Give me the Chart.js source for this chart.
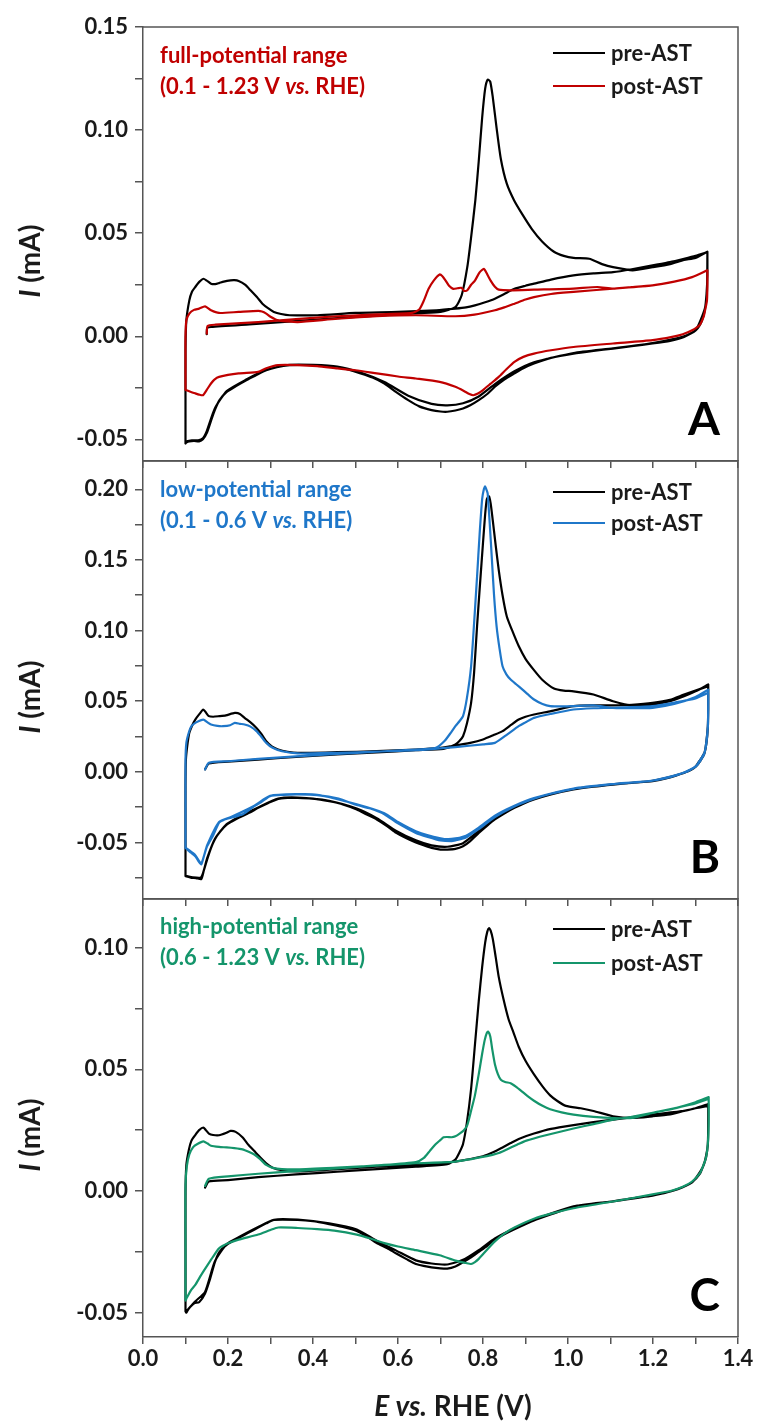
<!DOCTYPE html>
<html>
<head>
<meta charset="utf-8">
<title>CO stripping voltammograms before and after AST</title>
<script src="https://cdn.jsdelivr.net/npm/chart.js@4.4.1/dist/chart.umd.min.js"></script>
<style>
  html, body { margin: 0; padding: 0; background: #fff; }
  #wrap { position: relative; width: 757px; height: 1425px; overflow: hidden; background: #fff; }
  #wrap canvas { position: absolute; left: 0; top: 0; }
</style>
</head>
<body>
<div id="wrap">
  <canvas id="cvA" width="757" height="1425"></canvas>
  <canvas id="cvB" width="757" height="1425"></canvas>
  <canvas id="cvC" width="757" height="1425"></canvas>
</div>
<script>
// ---------- axis ticks ----------
const xMajor = [0, 0.2, 0.4, 0.6, 0.8, 1.0, 1.2, 1.4];
const xMinor = [0.1, 0.3, 0.5, 0.7, 0.9, 1.1, 1.3];

const yMajorA = [-0.05, 0, 0.05, 0.10, 0.15];
const yMinorA = [-0.025, 0.025, 0.075, 0.125];
const yMajorB = [-0.05, 0, 0.05, 0.10, 0.15, 0.20];
const yMinorB = [-0.075, -0.025, 0.025, 0.075, 0.125, 0.175];
const yMajorC = [-0.05, 0, 0.05, 0.10];
const yMinorC = [-0.025, 0.025, 0.075];

// ---------- voltammograms: [E (V vs. RHE), I (mA)] ----------
// A: full-potential range, pre-AST
const fullPreScan = [[0.150,0.001],[0.151,0.004],[0.16,0.0045],[0.25,0.0058],[0.35,0.0072],[0.45,0.0087],[0.55,0.0100],[0.65,0.0112],[0.70,0.0118],[0.735,0.0142],[0.750,0.020],[0.763,0.0335],[0.772,0.048],[0.782,0.066],[0.790,0.085],[0.798,0.106],[0.805,0.120],[0.811,0.1245],[0.817,0.1235],[0.823,0.116],[0.832,0.101],[0.842,0.086],[0.856,0.074],[0.873,0.066],[0.893,0.059],[0.915,0.052],[0.939,0.046],[0.967,0.041],[0.99,0.039],[1.013,0.038],[1.05,0.0376],[1.08,0.035],[1.106,0.0335],[1.152,0.032],[1.199,0.0335],[1.24,0.035],[1.273,0.037],[1.30,0.038],[1.328,0.041]];
const fullPreCath1 = [[1.328,0.041],[1.328,0.030],[1.326,0.0206],[1.322,0.013],[1.315,0.0075],[1.301,0.0029],[1.273,-0.0003],[1.24,-0.0022],[1.199,-0.0035],[1.15,-0.0048],[1.106,-0.006],[1.06,-0.0071],[1.013,-0.0084],[0.96,-0.0105],[0.92,-0.0132],[0.895,-0.0155],[0.874,-0.018],[0.85,-0.021],[0.828,-0.0245],[0.81,-0.028],[0.79,-0.031],[0.77,-0.0335],[0.753,-0.035],[0.735,-0.036],[0.716,-0.0366],[0.70,-0.0365],[0.679,-0.0358],[0.65,-0.034],[0.624,-0.031],[0.595,-0.027],[0.568,-0.0229],[0.54,-0.020],[0.512,-0.018],[0.48,-0.016],[0.457,-0.0148],[0.43,-0.0142],[0.401,-0.014],[0.37,-0.0139],[0.345,-0.014],[0.315,-0.015],[0.29,-0.0165],[0.265,-0.019],[0.243,-0.0213],[0.22,-0.024],[0.197,-0.027],[0.18,-0.031],[0.169,-0.0358],[0.16,-0.041],[0.15,-0.047],[0.141,-0.050],[0.132,-0.051],[0.12,-0.0508],[0.109,-0.051],[0.102,-0.0515],[0.100,-0.052]];
const fullPreAnod = [[0.100,-0.052],[0.100,-0.030],[0.100,-0.0068],[0.102,0.0077],[0.109,0.0174],[0.115,0.0215],[0.123,0.0239],[0.133,0.0265],[0.142,0.0279],[0.150,0.027],[0.16,0.0255],[0.17,0.0253],[0.179,0.0258],[0.19,0.0265],[0.206,0.0271],[0.215,0.0272],[0.225,0.0268],[0.24,0.025],[0.253,0.0223],[0.268,0.019],[0.281,0.0158],[0.295,0.0135],[0.308,0.0118],[0.325,0.0108],[0.345,0.0102],[0.41,0.0102],[0.50,0.0113],[0.60,0.0118],[0.69,0.0126],[0.735,0.0134],[0.76,0.014],[0.781,0.015],[0.805,0.0165],[0.828,0.0182],[0.85,0.0205],[0.874,0.023],[0.90,0.0245],[0.92,0.0255],[0.96,0.0275],[1.013,0.0295],[1.06,0.0305],[1.106,0.0311],[1.15,0.0325],[1.199,0.0344],[1.24,0.036],[1.273,0.0376],[1.30,0.039],[1.328,0.0408]];
const fullPreCath2 = [[1.328,0.0408],[1.327,0.022],[1.322,0.0135],[1.301,0.0032],[1.273,0.0],[1.199,-0.0033],[1.106,-0.0058],[1.013,-0.0081],[0.92,-0.0126],[0.874,-0.017],[0.828,-0.0232],[0.79,-0.0292],[0.753,-0.0325],[0.716,-0.0335],[0.679,-0.0328],[0.624,-0.0288],[0.568,-0.0222],[0.512,-0.0176],[0.457,-0.0147],[0.401,-0.0139],[0.345,-0.0139],[0.29,-0.0163],[0.243,-0.021],[0.197,-0.0266],[0.169,-0.035],[0.15,-0.046],[0.141,-0.0495],[0.13,-0.0505],[0.115,-0.0505],[0.102,-0.051]];

// A: full-potential range, post-AST
const fullPostScan = [[0.150,0.0013],[0.152,0.005],[0.17,0.0056],[0.271,0.0069],[0.36,0.0083],[0.457,0.0097],[0.55,0.0106],[0.633,0.0113],[0.65,0.013],[0.661,0.0174],[0.672,0.023],[0.684,0.027],[0.698,0.030],[0.705,0.029],[0.712,0.027],[0.72,0.0245],[0.73,0.023],[0.74,0.0233],[0.749,0.0235],[0.756,0.022],[0.763,0.0223],[0.772,0.025],[0.781,0.027],[0.792,0.031],[0.802,0.0327],[0.81,0.030],[0.818,0.027],[0.828,0.024],[0.837,0.0226],[0.865,0.0223],[0.92,0.0226],[1.013,0.0231],[1.069,0.0239],[1.106,0.0231],[1.15,0.0238],[1.199,0.0247],[1.25,0.0265],[1.292,0.0287],[1.328,0.032]];
const fullPostCath = [[1.328,0.032],[1.328,0.025],[1.327,0.0174],[1.322,0.012],[1.319,0.0094],[1.31,0.0055],[1.292,0.0029],[1.27,0.001],[1.245,-0.0003],[1.199,-0.0019],[1.106,-0.0035],[1.013,-0.0052],[0.96,-0.0068],[0.92,-0.0084],[0.895,-0.010],[0.874,-0.0124],[0.855,-0.016],[0.837,-0.0197],[0.818,-0.023],[0.80,-0.0261],[0.788,-0.0278],[0.777,-0.0286],[0.768,-0.028],[0.755,-0.0265],[0.735,-0.0245],[0.698,-0.0221],[0.642,-0.0205],[0.60,-0.0195],[0.55,-0.018],[0.50,-0.0165],[0.457,-0.0156],[0.41,-0.0145],[0.364,-0.014],[0.318,-0.014],[0.29,-0.0155],[0.271,-0.0173],[0.225,-0.018],[0.179,-0.0197],[0.168,-0.021],[0.16,-0.0229],[0.15,-0.026],[0.141,-0.0286],[0.132,-0.0283],[0.123,-0.0277],[0.11,-0.0268],[0.100,-0.026]];
const fullPostAnod = [[0.100,-0.026],[0.100,-0.010],[0.100,0.0],[0.102,0.0077],[0.109,0.011],[0.12,0.0128],[0.132,0.0134],[0.146,0.0145],[0.16,0.0126],[0.179,0.0113],[0.225,0.0118],[0.271,0.0123],[0.28,0.012],[0.29,0.011],[0.30,0.0095],[0.318,0.0077],[0.34,0.0072],[0.364,0.0069],[0.457,0.0085],[0.55,0.0097],[0.642,0.0102],[0.735,0.0097],[0.78,0.0105],[0.828,0.0126],[0.85,0.014],[0.874,0.0158],[0.90,0.0178],[0.92,0.019],[0.96,0.0205],[1.013,0.0215],[1.106,0.0231],[1.199,0.0247],[1.25,0.0265],[1.292,0.0287],[1.328,0.032]];

// B: low-potential range, pre-AST
const lowPreScan = [[0.146,0.0017],[0.155,0.0059],[0.20,0.0072],[0.271,0.0087],[0.36,0.0105],[0.457,0.0123],[0.55,0.0138],[0.642,0.0153],[0.707,0.0163],[0.735,0.0193],[0.745,0.022],[0.753,0.0252],[0.762,0.034],[0.772,0.0488],[0.779,0.07],[0.786,0.103],[0.793,0.133],[0.80,0.162],[0.805,0.182],[0.809,0.193],[0.814,0.195],[0.818,0.190],[0.823,0.178],[0.83,0.160],[0.837,0.143],[0.846,0.125],[0.856,0.110],[0.87,0.099],[0.884,0.089],[0.90,0.080],[0.92,0.072],[0.94,0.065],[0.967,0.059],[0.99,0.0575],[1.013,0.057],[1.06,0.0547],[1.106,0.050],[1.152,0.047],[1.199,0.0476],[1.24,0.050],[1.273,0.0535],[1.30,0.057],[1.330,0.0618]];
const lowPreCath1 = [[1.330,0.0618],[1.330,0.045],[1.329,0.0323],[1.325,0.020],[1.321,0.0134],[1.31,0.008],[1.301,0.004],[1.29,0.0015],[1.273,-0.0007],[1.24,-0.004],[1.199,-0.0066],[1.15,-0.0078],[1.106,-0.009],[1.06,-0.0105],[1.013,-0.0125],[0.96,-0.016],[0.92,-0.0196],[0.895,-0.0225],[0.874,-0.0255],[0.85,-0.0295],[0.828,-0.0337],[0.81,-0.038],[0.79,-0.0432],[0.77,-0.049],[0.753,-0.0526],[0.735,-0.0545],[0.716,-0.055],[0.70,-0.055],[0.679,-0.0538],[0.66,-0.052],[0.642,-0.050],[0.62,-0.047],[0.596,-0.0432],[0.575,-0.0385],[0.55,-0.0337],[0.525,-0.030],[0.503,-0.0266],[0.47,-0.023],[0.438,-0.0208],[0.40,-0.019],[0.364,-0.0184],[0.34,-0.0185],[0.318,-0.0191],[0.295,-0.022],[0.271,-0.0255],[0.25,-0.029],[0.225,-0.0325],[0.21,-0.035],[0.197,-0.0373],[0.182,-0.042],[0.169,-0.0479],[0.16,-0.054],[0.151,-0.062],[0.143,-0.070],[0.137,-0.076],[0.125,-0.0752],[0.114,-0.075],[0.104,-0.0742],[0.100,-0.0738]];
const lowPreAnod = [[0.100,-0.0738],[0.100,-0.04],[0.100,-0.01],[0.101,0.0087],[0.104,0.018],[0.109,0.0276],[0.116,0.033],[0.123,0.037],[0.133,0.041],[0.142,0.0441],[0.148,0.042],[0.155,0.0394],[0.165,0.039],[0.179,0.0394],[0.195,0.040],[0.216,0.0417],[0.228,0.041],[0.239,0.0382],[0.253,0.035],[0.267,0.0311],[0.278,0.027],[0.29,0.0217],[0.303,0.018],[0.318,0.0158],[0.34,0.0142],[0.364,0.0134],[0.457,0.0139],[0.55,0.0146],[0.642,0.0158],[0.70,0.017],[0.735,0.0186],[0.77,0.0205],[0.80,0.0229],[0.825,0.026],[0.846,0.0288],[0.865,0.033],[0.884,0.037],[0.90,0.039],[0.92,0.0406],[0.96,0.043],[1.013,0.0465],[1.06,0.047],[1.106,0.047],[1.15,0.0475],[1.199,0.0488],[1.24,0.051],[1.273,0.0547],[1.30,0.0575],[1.330,0.0606]];
const lowPreCath2 = [[1.330,0.0606],[1.329,0.031],[1.321,0.013],[1.301,0.0038],[1.273,-0.0008],[1.199,-0.0064],[1.106,-0.0088],[1.013,-0.0122],[0.92,-0.019],[0.874,-0.0248],[0.828,-0.0328],[0.79,-0.0418],[0.753,-0.0505],[0.716,-0.053],[0.679,-0.052],[0.642,-0.0485],[0.596,-0.0418],[0.55,-0.0328],[0.503,-0.026],[0.438,-0.0205],[0.364,-0.0182],[0.318,-0.019],[0.271,-0.0252],[0.225,-0.032],[0.197,-0.037],[0.169,-0.0475],[0.151,-0.061],[0.137,-0.0745],[0.114,-0.0745],[0.100,-0.0735]];

// B: low-potential range, post-AST
const lowPostScan = [[0.146,0.0017],[0.155,0.0064],[0.20,0.0075],[0.271,0.0092],[0.36,0.011],[0.457,0.0127],[0.55,0.0142],[0.642,0.0158],[0.689,0.017],[0.71,0.022],[0.725,0.028],[0.735,0.0323],[0.745,0.036],[0.753,0.0394],[0.762,0.052],[0.772,0.0747],[0.779,0.105],[0.786,0.138],[0.792,0.168],[0.798,0.193],[0.802,0.200],[0.805,0.202],[0.809,0.199],[0.811,0.197],[0.816,0.175],[0.821,0.150],[0.826,0.125],[0.832,0.103],[0.839,0.087],[0.846,0.0747],[0.855,0.069],[0.865,0.0653],[0.878,0.062],[0.893,0.0582],[0.905,0.055],[0.92,0.0512],[0.94,0.048],[0.958,0.0465],[0.99,0.0463],[1.013,0.0465],[1.06,0.047],[1.106,0.0453],[1.15,0.045],[1.199,0.0453],[1.25,0.048],[1.30,0.053],[1.330,0.0582]];
const lowPostCath1 = [[1.330,0.0582],[1.330,0.045],[1.329,0.032],[1.325,0.020],[1.321,0.0134],[1.31,0.008],[1.301,0.004],[1.273,-0.0005],[1.24,-0.0038],[1.199,-0.0063],[1.106,-0.0088],[1.013,-0.012],[0.96,-0.0155],[0.92,-0.019],[0.874,-0.0245],[0.828,-0.032],[0.79,-0.0405],[0.76,-0.0465],[0.735,-0.0485],[0.726,-0.049],[0.70,-0.0485],[0.67,-0.046],[0.642,-0.0432],[0.60,-0.0365],[0.568,-0.030],[0.535,-0.026],[0.503,-0.0235],[0.46,-0.019],[0.41,-0.0165],[0.364,-0.016],[0.33,-0.0163],[0.299,-0.0172],[0.28,-0.021],[0.262,-0.0243],[0.235,-0.030],[0.207,-0.0325],[0.19,-0.034],[0.179,-0.036],[0.165,-0.045],[0.151,-0.0526],[0.143,-0.060],[0.137,-0.0655],[0.13,-0.063],[0.123,-0.0597],[0.112,-0.057],[0.104,-0.055],[0.100,-0.0538]];
const lowPostAnod = [[0.100,-0.0538],[0.100,-0.02],[0.100,0.008],[0.102,0.0205],[0.108,0.028],[0.114,0.0323],[0.125,0.035],[0.142,0.037],[0.152,0.035],[0.16,0.0335],[0.175,0.0325],[0.188,0.0323],[0.205,0.033],[0.216,0.0347],[0.228,0.034],[0.239,0.0335],[0.253,0.032],[0.267,0.0288],[0.278,0.025],[0.29,0.0205],[0.305,0.017],[0.327,0.0146],[0.364,0.013],[0.457,0.0135],[0.55,0.0143],[0.642,0.0153],[0.735,0.0175],[0.80,0.0195],[0.828,0.0205],[0.855,0.026],[0.884,0.0323],[0.90,0.035],[0.92,0.0382],[0.96,0.041],[1.013,0.0441],[1.06,0.045],[1.106,0.0453],[1.199,0.0465],[1.25,0.049],[1.30,0.052],[1.330,0.0559]];
const lowPostCath2 = [[1.330,0.0559],[1.329,0.031],[1.321,0.013],[1.301,0.0038],[1.273,-0.0006],[1.199,-0.0062],[1.106,-0.0086],[1.013,-0.0118],[0.92,-0.0186],[0.874,-0.024],[0.828,-0.031],[0.79,-0.0395],[0.76,-0.0452],[0.726,-0.0475],[0.70,-0.047],[0.642,-0.042],[0.60,-0.0355],[0.568,-0.0293],[0.503,-0.023],[0.41,-0.0162],[0.364,-0.0158],[0.299,-0.017],[0.262,-0.024],[0.207,-0.032],[0.179,-0.0355],[0.151,-0.052],[0.137,-0.0648],[0.123,-0.059],[0.104,-0.0545],[0.100,-0.0535]];

// C: high-potential range, pre-AST
const highPreScan = [[0.146,0.0014],[0.155,0.0039],[0.20,0.0045],[0.271,0.0057],[0.36,0.0068],[0.457,0.0079],[0.55,0.009],[0.642,0.010],[0.716,0.011],[0.735,0.0129],[0.745,0.016],[0.753,0.0193],[0.762,0.028],[0.772,0.042],[0.781,0.060],[0.79,0.078],[0.798,0.092],[0.805,0.102],[0.81,0.1065],[0.814,0.108],[0.818,0.107],[0.823,0.1036],[0.83,0.096],[0.837,0.088],[0.848,0.079],[0.86,0.0707],[0.872,0.065],[0.884,0.0593],[0.90,0.0535],[0.92,0.0479],[0.94,0.043],[0.958,0.0393],[0.975,0.037],[0.995,0.035],[1.03,0.034],[1.06,0.0329],[1.106,0.0307],[1.152,0.030],[1.199,0.0307],[1.24,0.0315],[1.273,0.0329],[1.30,0.034],[1.330,0.0357]];
const highPreCath1 = [[1.330,0.0357],[1.330,0.028],[1.329,0.0193],[1.325,0.014],[1.319,0.0107],[1.31,0.007],[1.292,0.0036],[1.27,0.0015],[1.245,0.0],[1.199,-0.0019],[1.15,-0.003],[1.106,-0.0043],[1.06,-0.0052],[1.013,-0.0064],[0.97,-0.009],[0.92,-0.0121],[0.874,-0.0157],[0.85,-0.0178],[0.828,-0.020],[0.81,-0.0225],[0.79,-0.025],[0.77,-0.0275],[0.753,-0.0293],[0.735,-0.031],[0.716,-0.0319],[0.70,-0.0318],[0.679,-0.0314],[0.66,-0.0308],[0.642,-0.030],[0.62,-0.028],[0.596,-0.0257],[0.575,-0.0235],[0.55,-0.0214],[0.525,-0.0185],[0.503,-0.0164],[0.47,-0.0148],[0.438,-0.0136],[0.40,-0.0124],[0.364,-0.0119],[0.308,-0.0119],[0.29,-0.0133],[0.271,-0.015],[0.25,-0.017],[0.225,-0.0193],[0.197,-0.0221],[0.18,-0.025],[0.169,-0.0293],[0.158,-0.036],[0.146,-0.0421],[0.132,-0.0457],[0.122,-0.046],[0.114,-0.0471],[0.107,-0.0485],[0.102,-0.050],[0.100,-0.0495]];
const highPreAnod = [[0.100,-0.0495],[0.100,-0.03],[0.100,-0.0007],[0.102,0.0107],[0.108,0.017],[0.114,0.0207],[0.123,0.023],[0.132,0.025],[0.142,0.0261],[0.148,0.025],[0.155,0.0236],[0.165,0.023],[0.179,0.0229],[0.195,0.0238],[0.206,0.0247],[0.218,0.0243],[0.234,0.0221],[0.248,0.019],[0.262,0.0164],[0.276,0.0138],[0.29,0.0114],[0.305,0.0096],[0.327,0.0086],[0.364,0.0081],[0.457,0.009],[0.55,0.010],[0.642,0.0107],[0.735,0.0121],[0.80,0.0143],[0.825,0.016],[0.846,0.0179],[0.865,0.0197],[0.884,0.0214],[0.92,0.0236],[0.96,0.0255],[1.013,0.0271],[1.06,0.0283],[1.106,0.0293],[1.199,0.0314],[1.273,0.0329],[1.30,0.034],[1.330,0.035]];
const highPreCath2 = [[1.330,0.035],[1.329,0.019],[1.319,0.0105],[1.292,0.0035],[1.245,0.0],[1.199,-0.0018],[1.106,-0.0042],[1.013,-0.0063],[0.92,-0.0118],[0.874,-0.0153],[0.828,-0.0195],[0.79,-0.0243],[0.753,-0.0283],[0.716,-0.0302],[0.679,-0.0298],[0.642,-0.0285],[0.596,-0.0245],[0.55,-0.0205],[0.503,-0.0158],[0.438,-0.0133],[0.364,-0.0118],[0.308,-0.0118],[0.271,-0.0148],[0.225,-0.019],[0.197,-0.0218],[0.169,-0.029],[0.146,-0.0415],[0.122,-0.0455],[0.102,-0.0495]];

// C: high-potential range, post-AST
const highPostScan = [[0.146,0.0021],[0.155,0.005],[0.20,0.006],[0.271,0.0071],[0.36,0.0082],[0.457,0.0093],[0.55,0.0105],[0.642,0.0119],[0.661,0.0136],[0.675,0.0165],[0.689,0.0193],[0.70,0.021],[0.707,0.0221],[0.716,0.0222],[0.726,0.0221],[0.735,0.0225],[0.745,0.0236],[0.755,0.025],[0.763,0.0271],[0.772,0.033],[0.781,0.0393],[0.79,0.048],[0.798,0.0564],[0.804,0.062],[0.809,0.065],[0.812,0.0655],[0.817,0.0636],[0.822,0.058],[0.828,0.0521],[0.835,0.048],[0.842,0.0457],[0.852,0.0448],[0.865,0.0443],[0.878,0.0428],[0.893,0.0407],[0.905,0.039],[0.92,0.0371],[0.94,0.035],[0.958,0.0336],[0.985,0.0323],[1.013,0.0314],[1.06,0.0305],[1.106,0.030],[1.152,0.030],[1.199,0.0321],[1.24,0.0335],[1.273,0.035],[1.30,0.0365],[1.331,0.0386]];
const highPostCath = [[1.331,0.0386],[1.331,0.028],[1.329,0.0193],[1.325,0.014],[1.319,0.0107],[1.31,0.0072],[1.292,0.0039],[1.27,0.0017],[1.245,0.0002],[1.199,-0.0014],[1.106,-0.0043],[1.013,-0.0071],[0.96,-0.0093],[0.92,-0.0114],[0.874,-0.015],[0.85,-0.0175],[0.828,-0.0207],[0.81,-0.024],[0.79,-0.0279],[0.781,-0.0292],[0.772,-0.030],[0.76,-0.0296],[0.735,-0.0286],[0.698,-0.0264],[0.642,-0.0243],[0.60,-0.0228],[0.568,-0.0214],[0.535,-0.0195],[0.503,-0.0179],[0.45,-0.0163],[0.41,-0.0157],[0.364,-0.0152],[0.318,-0.015],[0.30,-0.016],[0.271,-0.0179],[0.225,-0.020],[0.20,-0.0215],[0.179,-0.0236],[0.165,-0.027],[0.151,-0.0307],[0.137,-0.0345],[0.123,-0.0386],[0.112,-0.041],[0.104,-0.0436],[0.100,-0.045]];
const highPostAnod = [[0.100,-0.045],[0.100,-0.02],[0.100,0.002],[0.103,0.010],[0.109,0.015],[0.118,0.018],[0.128,0.0193],[0.142,0.0204],[0.152,0.0195],[0.16,0.0186],[0.179,0.0181],[0.197,0.0179],[0.215,0.0176],[0.234,0.0171],[0.25,0.016],[0.262,0.015],[0.275,0.0132],[0.29,0.0107],[0.305,0.0095],[0.327,0.009],[0.364,0.0089],[0.457,0.0096],[0.55,0.0104],[0.642,0.0114],[0.735,0.0121],[0.809,0.0143],[0.835,0.0155],[0.856,0.0171],[0.88,0.019],[0.902,0.0207],[0.95,0.023],[1.013,0.0257],[1.06,0.0275],[1.106,0.0293],[1.15,0.0305],[1.199,0.0321],[1.25,0.034],[1.30,0.036],[1.331,0.0379]];

// ---------- styling ----------
const FONT = "Lato, 'Open Sans', sans-serif";
const AXIS_COLOR = '#555555';
const TEXT_COLOR = '#1a1a1a';
const RED = '#c00000';
const BLUE = '#1f77c9';
const GREEN = '#14956b';
const PLOT_LEFT = 143;
const PLOT_RIGHT = 738;
const X_AXIS_H = 40;

function fontStr(size, weight, italic) {
  return (italic ? 'italic ' : '') + weight + ' ' + size + 'px ' + FONT;
}

// draws a line of text made of upright / italic runs
function drawRuns(ctx, runs, x, y, size, weight, align) {
  const widths = runs.map(r => { ctx.font = fontStr(size, weight, r.it); return ctx.measureText(r.t).width; });
  const total = widths.reduce((a, b) => a + b, 0);
  let cx = align === 'center' ? x - total / 2 : x;
  ctx.textAlign = 'left';
  runs.forEach((r, i) => {
    ctx.font = fontStr(size, weight, r.it);
    ctx.fillText(r.t, cx, y);
    cx += widths[i];
  });
}

const near = (v, list) => list.some(t => Math.abs(t - v) < 1e-9);

const overlay = {
  id: 'overlay',
  afterDraw(chart, args, o) {
    const { ctx, chartArea: ca } = chart;
    ctx.save();
    // box: top and right edges
    ctx.strokeStyle = AXIS_COLOR;
    ctx.lineWidth = 1.5;
    ctx.beginPath();
    ctx.moveTo(ca.left, ca.top);
    ctx.lineTo(ca.right, ca.top);
    ctx.lineTo(ca.right, ca.bottom);
    ctx.stroke();

    // range note, top left
    ctx.fillStyle = o.noteColor;
    ctx.textBaseline = 'alphabetic';
    o.note.forEach((runs, i) => drawRuns(ctx, runs, ca.left + 17, ca.top + o.noteY[i], 22, 'bold', 'left'));

    // legend, top right
    const sets = chart.data.datasets.slice().sort((a, b) => a.legendRank - b.legendRank);
    sets.forEach((ds, i) => {
      const y = ca.top + o.legendY[i];
      ctx.strokeStyle = ds.borderColor;
      ctx.lineWidth = 2;
      ctx.beginPath();
      ctx.moveTo(ca.right - 185, y);
      ctx.lineTo(ca.right - 133, y);
      ctx.stroke();
      ctx.fillStyle = TEXT_COLOR;
      ctx.font = fontStr(22, 'bold', false);
      ctx.textBaseline = 'middle';
      ctx.textAlign = 'left';
      ctx.fillText(ds.label, ca.right - 127, y + 1);
    });

    // panel letter
    ctx.fillStyle = '#000';
    ctx.font = fontStr(46, 'bold', false);
    ctx.textAlign = 'right';
    ctx.textBaseline = 'alphabetic';
    ctx.fillText(o.letter, ca.right - 18, ca.bottom - 26);

    // y axis title
    ctx.save();
    ctx.translate(31, (ca.top + ca.bottom) / 2 + 17);
    ctx.rotate(-Math.PI / 2);
    ctx.fillStyle = TEXT_COLOR;
    ctx.textBaseline = 'middle';
    drawRuns(ctx, [{ t: 'I', it: true }, { t: ' (mA)', it: false }], 0, 0, 28, 'bold', 'center');
    ctx.restore();

    // x axis title (bottom panel only)
    if (o.xTitle) {
      ctx.fillStyle = TEXT_COLOR;
      ctx.textBaseline = 'alphabetic';
      drawRuns(ctx, [{ t: 'E', it: true }, { t: ' vs.', it: true }, { t: ' RHE (V)', it: false }], 453, 1416, 28, 'bold', 'center');
    }
    ctx.restore();
  }
};

function makePanel(p) {
  const datasets = p.series.map((s, i) => ({
    label: s.label,
    legendRank: i,
    data: s.sweeps.flat().map(([x, y]) => ({ x, y })),
    borderColor: s.color,
    backgroundColor: s.color,
    borderWidth: 2.2,
    borderJoinStyle: 'round',
    borderCapStyle: 'round',
    pointRadius: 0,
    showLine: true,
    tension: 0.2,
    fill: false,
    order: s.color === '#000000' ? 2 : 1
  }));
  return new Chart(document.getElementById(p.id), {
    type: 'scatter',
    data: { datasets },
    options: {
      responsive: false,
      animation: false,
      devicePixelRatio: 1,
      events: [],
      layout: { padding: { left: 0, right: 757 - PLOT_RIGHT, top: p.top, bottom: 1425 - p.bottom - X_AXIS_H } },
      plugins: {
        legend: { display: false },
        tooltip: { enabled: false },
        overlay: { note: p.note, noteColor: p.noteColor, noteY: p.noteY, legendY: p.legendY, letter: p.letter, xTitle: p.xTitle }
      },
      scales: {
        x: {
          type: 'linear', min: 0, max: 1.4,
          afterBuildTicks: a => { a.ticks = xMajor.concat(xMinor).sort((m, n) => m - n).map(v => ({ value: v })); },
          afterFit: a => { a.height = X_AXIS_H; },
          grid: { drawOnChartArea: false, drawTicks: true, tickLength: 7, color: AXIS_COLOR, lineWidth: 1.5 },
          border: { display: true, color: AXIS_COLOR, width: 1.5 },
          ticks: {
            display: p.xTitle,
            autoSkip: false, maxRotation: 0, padding: 2,
            color: TEXT_COLOR, font: { family: FONT, size: 22, weight: 'bold' },
            callback: v => near(v, xMajor) ? v.toFixed(1) : ''
          }
        },
        y: {
          type: 'linear', min: p.yMin, max: p.yMax,
          afterBuildTicks: a => { a.ticks = p.yMajor.concat(p.yMinor).sort((m, n) => m - n).map(v => ({ value: v })); },
          afterFit: a => { a.width = PLOT_LEFT; },
          grid: { drawOnChartArea: false, drawTicks: true, tickLength: 8, color: AXIS_COLOR, lineWidth: 1.5 },
          border: { display: true, color: AXIS_COLOR, width: 1.5 },
          ticks: {
            autoSkip: false, padding: 7,
            color: TEXT_COLOR, font: { family: FONT, size: 22, weight: 'bold' },
            callback: v => near(v, p.yMajor) ? v.toFixed(2) : ''
          }
        }
      }
    },
    plugins: [overlay]
  });
}

const vs = { t: 'vs.', it: true };

makePanel({
  id: 'cvA', top: 27, bottom: 461, yMin: -0.0605, yMax: 0.15, yMajor: yMajorA, yMinor: yMinorA,
  series: [
    { label: 'pre-AST', color: '#000000', sweeps: [fullPreScan, fullPreCath1, fullPreAnod, fullPreCath2] },
    { label: 'post-AST', color: RED, sweeps: [fullPostScan, fullPostCath, fullPostAnod] }
  ],
  noteColor: RED,
  note: [[{ t: 'full-potential range', it: false }], [{ t: '(0.1 - 1.23 V ', it: false }, vs, { t: ' RHE)', it: false }]],
  noteY: [36, 67], legendY: [26, 59], letter: 'A', xTitle: false
});

makePanel({
  id: 'cvB', top: 461, bottom: 899, yMin: -0.09, yMax: 0.22, yMajor: yMajorB, yMinor: yMinorB,
  series: [
    { label: 'pre-AST', color: '#000000', sweeps: [lowPreScan, lowPreCath1, lowPreAnod, lowPreCath2] },
    { label: 'post-AST', color: BLUE, sweeps: [lowPostScan, lowPostCath1, lowPostAnod, lowPostCath2] }
  ],
  noteColor: BLUE,
  note: [[{ t: 'low-potential range', it: false }], [{ t: '(0.1 - 0.6 V ', it: false }, vs, { t: ' RHE)', it: false }]],
  noteY: [36, 67], legendY: [31, 62], letter: 'B', xTitle: false
});

makePanel({
  id: 'cvC', top: 899, bottom: 1337, yMin: -0.06, yMax: 0.12, yMajor: yMajorC, yMinor: yMinorC,
  series: [
    { label: 'pre-AST', color: '#000000', sweeps: [highPreScan, highPreCath1, highPreAnod, highPreCath2] },
    { label: 'post-AST', color: GREEN, sweeps: [highPostScan, highPostCath, highPostAnod] }
  ],
  noteColor: GREEN,
  note: [[{ t: 'high-potential range', it: false }], [{ t: '(0.6 - 1.23 V ', it: false }, vs, { t: ' RHE)', it: false }]],
  noteY: [35, 66], legendY: [30, 64], letter: 'C', xTitle: true
});
</script>
</body>
</html>
